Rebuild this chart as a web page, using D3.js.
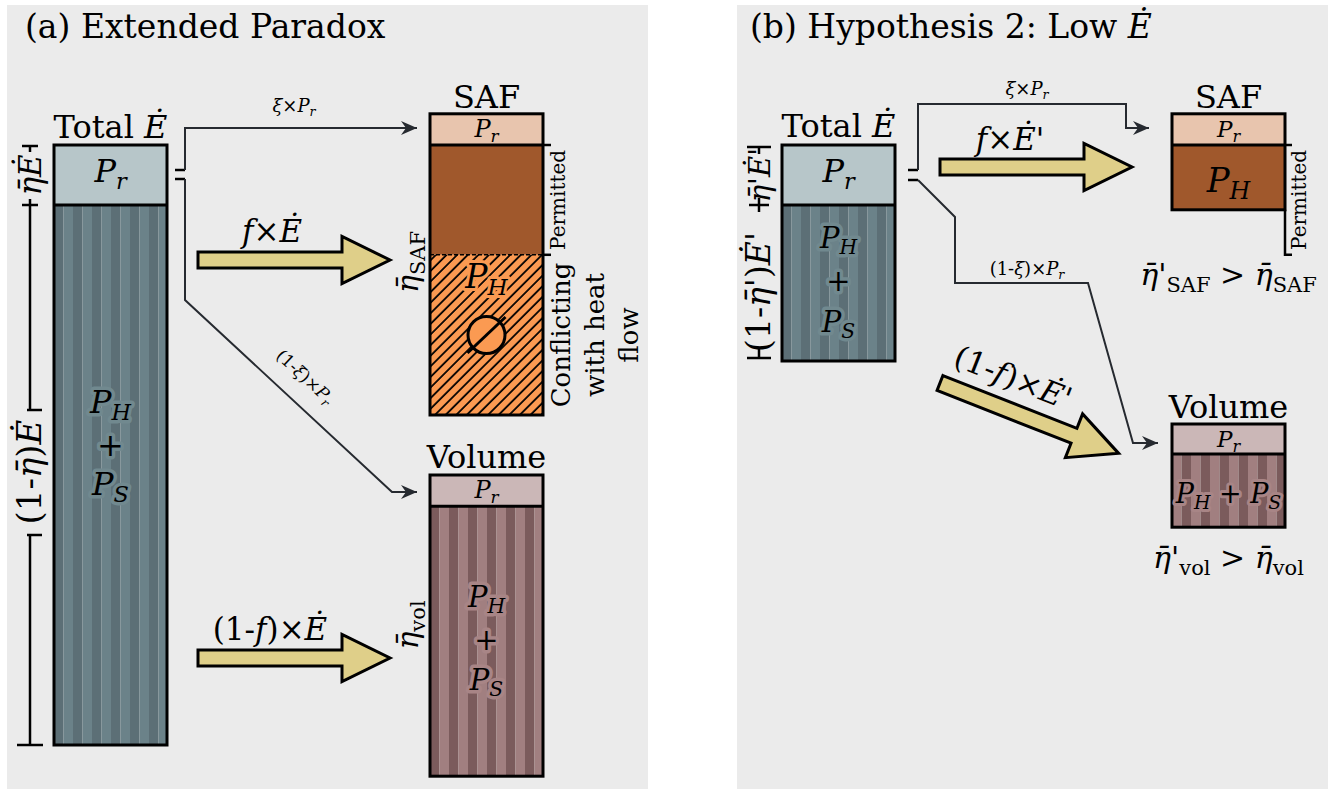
<!DOCTYPE html>
<html>
<head>
<meta charset="utf-8">
<script src="https://cdn.jsdelivr.net/npm/d3@7"></script>
<style>
  body { margin: 0; background: #fff; }
  text { font-family: "DejaVu Serif", serif; fill: #000; }
</style>
</head>
<body>
<svg id="fig" width="1328" height="792"></svg>
<script>
// ---- data (energy shares, in units of the P_r share of Total E) ----
var panelTitles = [
  [["(a) Extended Paradox", "r"]],
  [["(b) Hypothesis 2: Low ", "r"], ["Ė", "i"]]
];
var totalA = [1, 9];            // P_r, P_H + P_S
var safA   = [0.52, 1.83, 2.67]; // P_r, permitted P_H, conflicting P_H
var volA   = [0.52, 4.5];       // P_r, P_H + P_S
var totalB = [1, 2.6];
var safB   = [0.52, 1.08];
var volB   = [0.5, 1.22];
var conflictLines = ["Conflicting", "with heat", "flow"];

// ---- layout ----
var svg = d3.select("#fig");
var defs = svg.append("defs");
var y = d3.scaleLinear().domain([0, 1]).range([145, 205]); // 60 px per unit
var boxW = 113;
var ink = "#262a30";

function mathText(t, parts, size) {
  var sub = false;
  parts.forEach(function(p) {
    var isSub = p[1].charAt(0) === "s";
    var ts = t.append("tspan").text(p[0])
      .attr("font-style", p[1].indexOf("i") >= 0 ? "italic" : "normal");
    if (isSub) ts.attr("font-size", size * 0.7);
    if (isSub && !sub) ts.attr("dy", size * 0.22);
    if (!isSub && sub) ts.attr("dy", -size * 0.22);
    sub = isSub;
  });
  return t;
}
function label(g, x, yy, parts, size, opts) {
  opts = opts || {};
  var t = g.append("text")
    .attr("x", x).attr("y", yy)
    .attr("font-size", size)
    .attr("text-anchor", opts.anchor || "middle");
  if (opts.rotate != null) t.attr("transform", "rotate(" + opts.rotate + "," + x + "," + yy + ")");
  if (opts.halo) t.attr("stroke", opts.halo).attr("stroke-width", opts.haloW || 7)
     .attr("stroke-linejoin", "round").attr("paint-order", "stroke");
  return mathText(t, parts, size);
}

function stripes(id, x0, c1, c2) {
  var p = defs.append("pattern").attr("id", id)
    .attr("patternUnits", "userSpaceOnUse")
    .attr("x", x0).attr("y", 0).attr("width", 19).attr("height", 10);
  p.append("rect").attr("width", 9.5).attr("height", 10).attr("fill", c1);
  p.append("rect").attr("x", 9.5).attr("width", 9.5).attr("height", 10).attr("fill", c2);
}
var hatch = defs.append("pattern").attr("id", "hatch")
  .attr("patternUnits", "userSpaceOnUse").attr("width", 7.5).attr("height", 10)
  .attr("patternTransform", "rotate(45)");
hatch.append("rect").attr("width", 7.5).attr("height", 10).attr("fill", "#fb9a52");
hatch.append("line").attr("x1", 1).attr("x2", 1).attr("y1", 0).attr("y2", 10)
  .attr("stroke", "#000").attr("stroke-width", 1.8);

defs.append("marker").attr("id", "head")
  .attr("markerUnits", "userSpaceOnUse").attr("viewBox", "-16 -8 18 16")
  .attr("refX", 0).attr("refY", 0).attr("markerWidth", 18).attr("markerHeight", 16)
  .attr("orient", "auto")
  .append("path").attr("d", "M-16,-7 L0,0 L-16,7 L-11,0 Z").attr("fill", ink);

// stacked box: segments = shares, fills per segment
function box(g, x0, u0, shares, fills, dashedAt) {
  var ends = d3.cumsum(shares);
  var segs = shares.map(function(s, i) { return {u0: u0 + ends[i] - s, u1: u0 + ends[i], fill: fills[i]}; });
  g.selectAll(null).data(segs).enter().append("rect")
    .attr("x", x0).attr("width", boxW)
    .attr("y", function(d) { return y(d.u0); })
    .attr("height", function(d) { return y(d.u1) - y(d.u0); })
    .attr("fill", function(d) { return d.fill; });
  segs.slice(1).forEach(function(d, i) {
    g.append("line").attr("x1", x0).attr("x2", x0 + boxW)
      .attr("y1", y(d.u0)).attr("y2", y(d.u0))
      .attr("stroke", "#000")
      .attr("stroke-width", dashedAt === i + 1 ? 1.5 : 3)
      .attr("stroke-dasharray", dashedAt === i + 1 ? "4,2" : null);
  });
  g.append("rect").attr("x", x0).attr("y", y(u0)).attr("width", boxW)
    .attr("height", y(u0 + ends[ends.length - 1]) - y(u0))
    .attr("fill", "none").attr("stroke", "#000").attr("stroke-width", 3);
  return segs;
}

function blockArrow(g, x, yy, angle) {
  var a = g.append("g").attr("transform", "translate(" + x + "," + yy + ") rotate(" + angle + ")");
  var pts = [[0,-8],[144,-8],[144,-23.5],[192,0],[144,23.5],[144,8],[0,8]];
  a.append("path").attr("d", d3.line()(pts) + "Z")
    .attr("fill", "#dfcf89").attr("stroke", "#000").attr("stroke-width", 3)
    .attr("stroke-linejoin", "miter");
  return a;
}
function flow(g, pts) {
  g.append("path").attr("d", d3.line()(pts)).attr("fill", "none")
    .attr("stroke", ink).attr("stroke-width", 2).attr("marker-end", "url(#head)");
}
function stub(g, pts, w) {
  g.append("path").attr("d", d3.line()(pts)).attr("fill", "none")
    .attr("stroke", "#000").attr("stroke-width", w || 3);
}

// panels
var panelX = [[7, 648], [737, 1328]];
panelX.forEach(function(px, i) {
  svg.append("rect").attr("x", px[0]).attr("y", 5).attr("width", px[1] - px[0])
    .attr("height", 784).attr("fill", "#ebebeb");
  label(svg, px[0] + (i ? 13 : 18), 38, panelTitles[i], 33, {anchor: "start"});
});

var E = ["Ė", "i"], Pr = [["P","i"],["r","si"]], PH = [["P","i"],["H","si"]], PS = [["P","i"],["S","si"]];
var eta = ["η\u0304", "i"];

// ================= panel (a) =================
var A = svg.append("g");
var tx = 54, sx = 430;
stripes("stA", tx, "#5c6f76", "#6b8289");
stripes("svA", sx, "#7b5b5c", "#a17f80");
box(A, tx, 0, totalA, ["#b7c6c9", "url(#stA)"]);
label(A, tx + boxW / 2, 138, [["Total ", "r"], E], 32);
label(A, tx + boxW / 2, y(0.62), Pr, 32);
label(A, tx + boxW / 2, 413, PH, 32, {halo: "#71898f"});
label(A, tx + boxW / 2, 456, [["+", "r"]], 32, {halo: "#71898f"});
label(A, tx + boxW / 2, 495, PS, 32, {halo: "#71898f"});

// dimension bracket
var dx = 30;
stub(A, [[dx - 8, y(0) + 1], [dx + 8, y(0) + 1]], 2.5);
stub(A, [[dx, y(0) + 1], [dx, y(0) + 7]], 2.5);
stub(A, [[dx - 8, y(1)], [dx + 8, y(1)]], 2.5);
stub(A, [[dx, y(1) - 6], [dx, 410]], 2.5);
stub(A, [[dx - 3, 410], [dx + 12, 410]], 2.5);
stub(A, [[dx - 3, 535], [dx + 12, 535]], 2.5);
stub(A, [[dx, 535], [dx, y(10)]], 2.5);
stub(A, [[dx - 13, y(10)], [dx + 13, y(10)]], 2.5);
label(A, dx + 11, y(0.5), [eta, E], 31, {rotate: -90});
label(A, dx + 11, 472, [["(1-", "r"], eta, [")", "r"], E], 34, {rotate: -90});

// SAF box
var saf = box(A, sx, -safA[0], safA, ["#e8c5ae", "#a0582c", "url(#hatch)"], 2);
label(A, sx + boxW / 2, 108, [["SAF", "r"]], 32);
label(A, sx + boxW / 2, 137, Pr, 24);
label(A, sx + boxW / 2, 288, PH, 33, {halo: "#fb9a52", haloW: 6});
var cy = 335;
A.append("circle").attr("cx", sx + boxW / 2).attr("cy", cy).attr("r", 18.5)
  .attr("fill", "#fb9a52").attr("stroke", "#000").attr("stroke-width", 3);
stub(A, [[sx + boxW / 2 - 19, cy + 18], [sx + boxW / 2 + 19, cy - 18]], 3);
stub(A, [[sx + boxW, y(0)], [sx + boxW + 8, y(0)]], 2.5);
stub(A, [[sx + boxW, y(saf[1].u1)], [sx + boxW + 8, y(saf[1].u1)]], 2.5);
label(A, sx + boxW + 22, (y(0) + y(saf[1].u1)) / 2, [["Permitted", "r"]], 20, {rotate: -90});
conflictLines.forEach(function(s, i) {
  label(A, 570 + i * 34, cy, [[s, "r"]], 26, {rotate: -90});
});
label(A, sx - 12, 262, [eta, ["SAF", "sr"]], 30, {rotate: -90});

// Volume box
box(A, sx, 5.5, volA, ["#cbb7b7", "url(#svA)"]);
label(A, sx + boxW / 2, 468, [["Volume", "r"]], 32);
label(A, sx + boxW / 2, 498, Pr, 24);
label(A, sx + boxW / 2, 607, PH, 29, {halo: "#a88586"});
label(A, sx + boxW / 2, 650, [["+", "r"]], 29, {halo: "#a88586"});
label(A, sx + boxW / 2, 690, PS, 29, {halo: "#a88586"});
label(A, sx - 12, 625, [eta, ["vol", "sr"]], 30, {rotate: -90});

// flows
stub(A, [[175, 170], [185, 170]], 2.5);
stub(A, [[175, 179], [185, 179]], 2.5);
flow(A, [[185, 170], [185, 128], [417, 128]]);
flow(A, [[185, 179], [185, 300], [392, 492], [417, 492]]);
label(A, 294, 112, [["ξ", "i"], ["×", "r"]].concat(Pr), 18);
label(A, 301, 381, [["(1-", "r"], ["ξ", "i"], [")×", "r"]].concat(Pr), 17, {rotate: 42.8});

var a1 = blockArrow(A, 198, 260, 0);
label(a1, 74, -18, [["f", "i"], ["×", "r"], E], 31);
var a2 = blockArrow(A, 198, 658, 0);
label(a2, 72, -18, [["(1-", "r"], ["f", "i"], [")×", "r"], E], 31);

// ================= panel (b) =================
var B = svg.append("g");
var tx2 = 782, sx2 = 1172;
stripes("stB", tx2, "#5c6f76", "#6b8289");
stripes("svB", sx2, "#a17f80", "#7b5b5c");
box(B, tx2, 0, totalB, ["#b7c6c9", "url(#stB)"]);
label(B, tx2 + boxW / 2, 137, [["Total ", "r"], E], 32);
label(B, tx2 + boxW / 2, y(0.62), Pr, 32);
label(B, tx2 + boxW / 2, 248, PH, 29, {halo: "#71898f"});
label(B, tx2 + boxW / 2, 291, [["+", "r"]], 29, {halo: "#71898f"});
label(B, tx2 + boxW / 2, 332, PS, 29, {halo: "#71898f"});

var Ep = [["Ė", "i"], ["'", "r"]], etap = [eta, ["'", "r"]];
var bx = 759;
stub(B, [[bx - 12, y(0) + 2], [bx + 12, y(0) + 2]], 2.5);
stub(B, [[bx, y(0) + 2], [bx, y(0) + 9]], 2.5);
stub(B, [[bx - 10, y(1)], [bx + 10, y(1)]], 2.5);
stub(B, [[bx, y(1) - 7], [bx, y(1) + 7]], 2.5);
stub(B, [[bx - 12, y(3.55)], [bx + 12, y(3.55)]], 2.5);
stub(B, [[bx, y(3.55)], [bx, y(3.55) - 9]], 2.5);
label(B, bx + 11, 175, etap.concat(Ep), 29, {rotate: -90});
label(B, bx + 11, 292, [["(1-", "r"]].concat(etap, [[")", "r"]], Ep), 33, {rotate: -90});

var saf2 = box(B, sx2, -safB[0], safB, ["#e8c5ae", "#a0582c"]);
label(B, sx2 + boxW / 2, 108, [["SAF", "r"]], 32);
label(B, sx2 + boxW / 2, 137, Pr, 23);
label(B, sx2 + boxW / 2, 192, PH, 34);
stub(B, [[sx2 + boxW, y(0)], [sx2 + boxW + 7, y(0)]], 2.5);
stub(B, [[sx2 + boxW, y(saf2[1].u1)], [sx2 + boxW, y(1.83)], [sx2 + boxW + 7, y(1.83)]], 2.5);
label(B, sx2 + boxW + 21, (y(0) + y(1.83)) / 2, [["Permitted", "r"]], 20, {rotate: -90});
label(B, sx2 + boxW / 2, 285, etap.concat([["SAF", "sr"], [" > ", "r"], eta, ["SAF", "sr"]]), 30);

box(B, sx2, 4.65, volB, ["#cbb7b7", "url(#svB)"]);
label(B, sx2 + boxW / 2, 418, [["Volume", "r"]], 32);
label(B, sx2 + boxW / 2, 447, Pr, 23);
label(B, sx2 + boxW / 2, 503, PH.concat([[" + ", "r"]], PS), 27, {halo: "#a88586", haloW: 6});
label(B, sx2 + boxW / 2, 568, etap.concat([["vol", "sr"], [" > ", "r"], eta, ["vol", "sr"]]), 30);

stub(B, [[908, 170], [918, 170]], 2.5);
stub(B, [[908, 180], [918, 180]], 2.5);
flow(B, [[918, 170], [918, 104], [1126, 104], [1126, 128], [1149, 128]]);
flow(B, [[918, 180], [955, 217], [955, 283], [1088, 283], [1133, 443], [1158, 443]]);
label(B, 1027, 95, [["ξ", "i"], ["×", "r"]].concat(Pr), 18);
label(B, 1027, 275, [["(1-", "r"], ["ξ", "i"], [")×", "r"]].concat(Pr), 18);

var b1 = blockArrow(B, 940, 167, 0);
label(b1, 70, -17, [["f", "i"], ["×", "r"]].concat(Ep), 31);
var b2 = blockArrow(B, 940, 383, 21.5);
label(b2, 66, -21, [["(1-", "r"], ["f", "i"], [")×", "r"]].concat(Ep), 31);
</script>
</body>
</html>
